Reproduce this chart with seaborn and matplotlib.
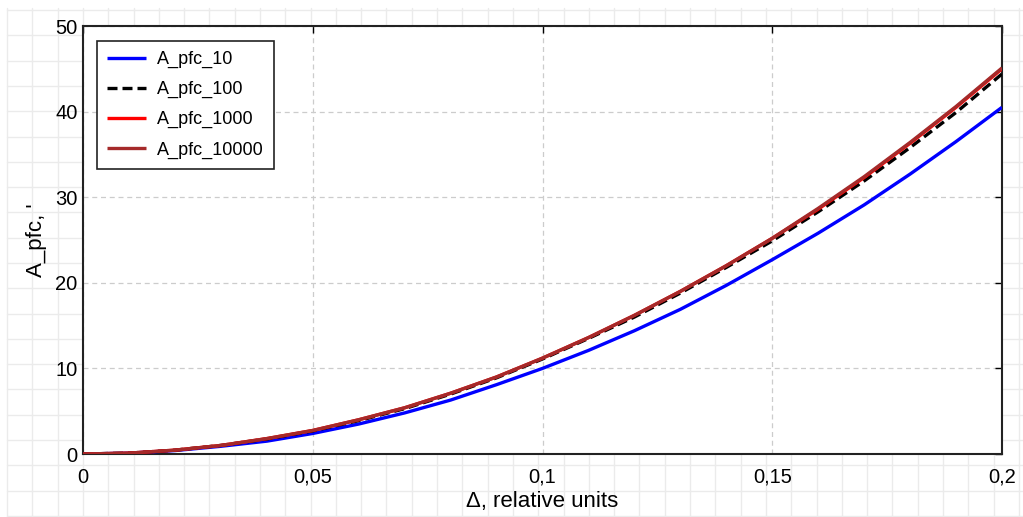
import seaborn as sns
import numpy as np
import pandas as pd
import matplotlib.pyplot as plt

#######   data   ####################################

delta = [0, 0.01, 0.02, 0.03, 0.04, 0.05, 0.06, 0.07, 0.08, 0.09, 0.10,
         0.11, 0.12, 0.13, 0.14, 0.15, 0.16, 0.17, 0.18, 0.19, 0.20]

a_pfc_10 = [0, 0.1, 0.4, 0.9, 1.5, 2.4, 3.5, 4.8, 6.3, 8.1, 10.0,
            12.1, 14.4, 16.9, 19.7, 22.7, 25.8, 29.1, 32.7, 36.5, 40.5]
a_pfc_100 = [0, 0.1, 0.45, 1.0, 1.75, 2.7, 3.9, 5.3, 7.0, 8.9, 11.1,
             13.5, 16.0, 18.8, 21.8, 24.9, 28.3, 31.9, 35.8, 39.9, 44.4]
a_pfc_1000 = [0, 0.1, 0.45, 1.0, 1.8, 2.75, 4.0, 5.4, 7.1, 9.0, 11.2,
              13.6, 16.2, 19.0, 22.0, 25.2, 28.6, 32.3, 36.3, 40.5, 45.0]
a_pfc_10000 = [0, 0.1, 0.45, 1.0, 1.8, 2.75, 4.0, 5.4, 7.1, 9.0, 11.2,
               13.6, 16.2, 19.0, 22.0, 25.2, 28.7, 32.4, 36.4, 40.6, 45.1]

series_names = ["A_pfc_10", "A_pfc_100", "A_pfc_1000", "A_pfc_10000"]
series_colors = ["#0000ff", "#000000", "#ff0000", "#a52a2a"]
series_dashes = [(1, 0), (3, 1.5), (1, 0), (1, 0)]

xticks = [0, 0.05, 0.1, 0.15, 0.2]
xtick_labels = ["0", "0,05", "0,1", "0,15", "0,2"]
yticks = [0, 10, 20, 30, 40, 50]

df = pd.DataFrame({
    "delta": delta * 4,
    "value": a_pfc_10 + a_pfc_100 + a_pfc_1000 + a_pfc_10000,
    "series": [n for n in series_names for _ in delta],
})

#######   style   #############
sns.set_style("white")
plt.rcParams['font.family'] = ['Liberation Sans', 'DejaVu Sans']
plt.rcParams['text.color'] = 'black'
plt.rcParams['axes.labelcolor'] = 'black'
plt.rcParams['xtick.color'] = 'black'
plt.rcParams['ytick.color'] = 'black'

W, H = 1023, 517
fig = plt.figure(figsize=(W / 100, H / 100), dpi=100)

# grid-paper background behind everything
bg = fig.add_axes([0, 0, 1, 1], zorder=-1)
bg.set_xlim(0, W)
bg.set_ylim(H, 0)
bg.axis("off")
for gx in np.arange(7, W, 25.3):
    bg.plot([gx, gx], [8, H], color="#ebebeb", lw=1)
for gy in np.arange(10, H, 25.3):
    bg.plot([7, W], [gy, gy], color="#ebebeb", lw=1)

ax = fig.add_axes([83 / W, 1 - 454 / H, (1002 - 83) / W, (454 - 26) / H])
ax.set_facecolor("white")

sns.lineplot(data=df, x="delta", y="value", hue="series", style="series",
             palette=series_colors, dashes=series_dashes, linewidth=2.4,
             ax=ax, zorder=3)

ax.set_xlim(0, 0.2)
ax.set_ylim(0, 50)
ax.set_xticks(xticks, xtick_labels)
ax.set_yticks(yticks)
ax.tick_params(direction="in", length=5, width=1, labelsize=14.5,
               top=True, right=True, color="black", labelcolor="black")
ax.tick_params(axis="x", pad=10)
ax.tick_params(axis="y", pad=4)
ax.grid(True, color="#cccccc", linestyle=(0, (4, 3)), linewidth=0.9)
for sp in ax.spines.values():
    sp.set_color("#222222")
    sp.set_linewidth(1.5)

ax.set_xlabel("Δ, relative units", fontsize=16, labelpad=3, color="black")
ax.set_ylabel("A_pfc, '", fontsize=16, labelpad=6, color="black")

leg = ax.legend(loc="upper left", bbox_to_anchor=(0.015, 0.965), fontsize=13,
                frameon=True, fancybox=False, handlelength=2.2, handletextpad=0.6,
                borderpad=0.55, labelspacing=0.72, borderaxespad=0)
leg.get_frame().set_edgecolor("#222222")
leg.get_frame().set_linewidth(1.2)
leg.get_frame().set_alpha(1)
for line in leg.get_lines():
    line.set_linewidth(2.4)

plt.savefig("out.png", dpi=100)
